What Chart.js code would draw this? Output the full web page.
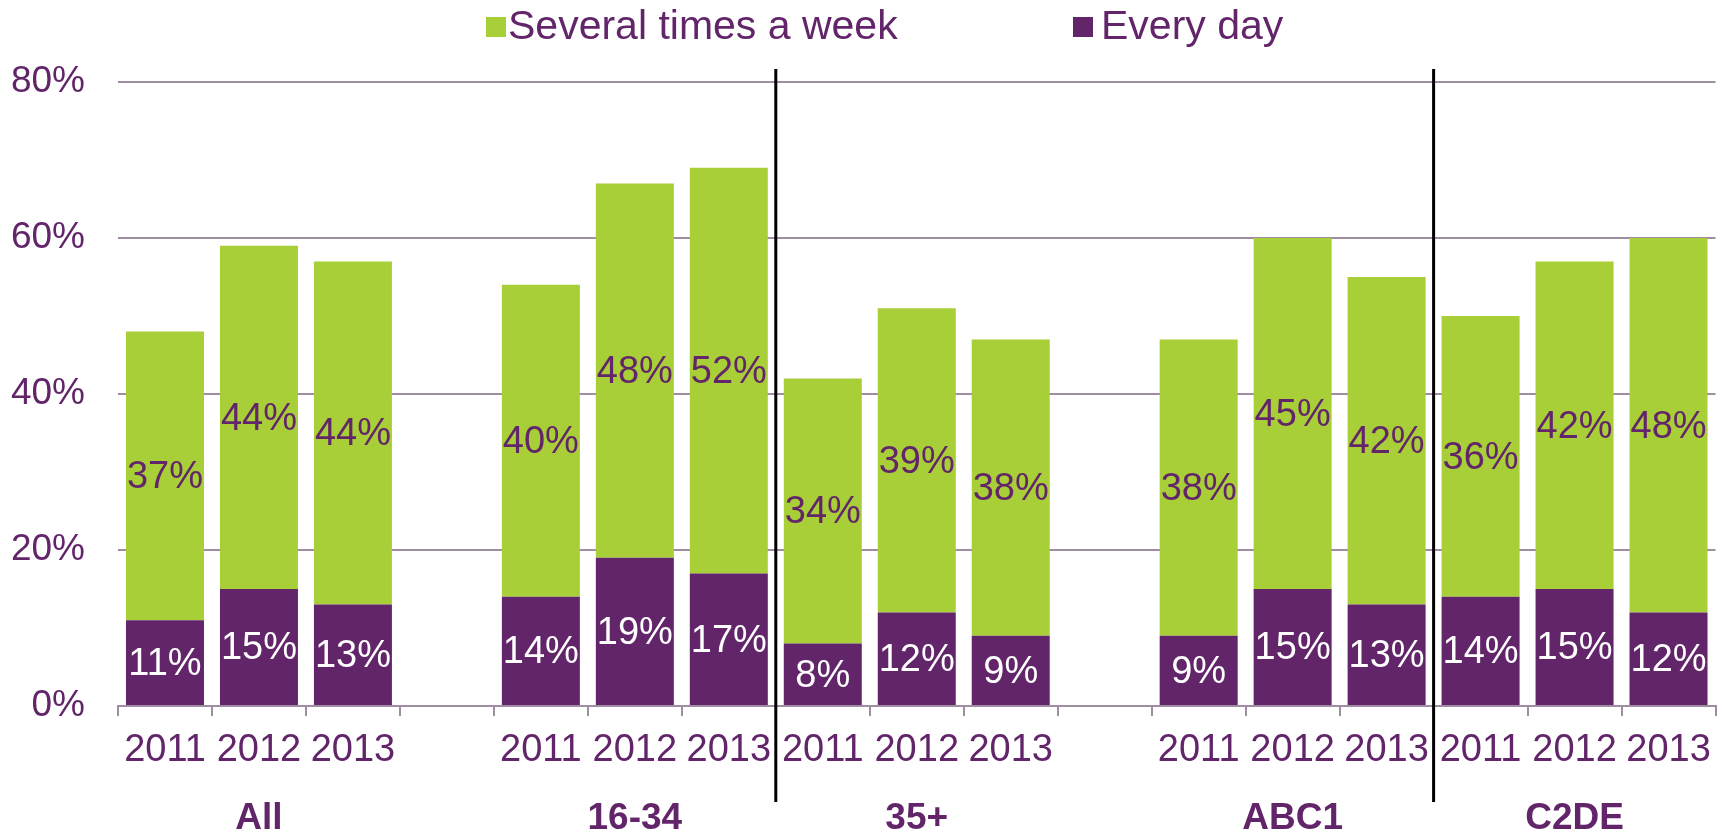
<!DOCTYPE html>
<html>
<head>
<meta charset="utf-8">
<script src="https://cdn.jsdelivr.net/npm/chart.js@4.4.1/dist/chart.umd.min.js"></script>
<style>
  html, body { margin: 0; padding: 0; background: #fff; }
  #wrap { width: 1723px; height: 833px; }
</style>
</head>
<body>
<div id="wrap"><canvas id="chart" width="1723" height="833"></canvas></div>
<script>
// categories (17 slots, blanks are the gaps between groups)
const yearLabels = ["2011", "2012", "2013", "", "2011", "2012", "2013", "2011", "2012", "2013", "", "2011", "2012", "2013", "2011", "2012", "2013"];
const groupLabels = ["", "All", "", "", "", "16-34", "", "", "35+", "", "", "", "ABC1", "", "", "C2DE", ""];

// series values (%)
const everyDay = [11, 15, 13, null, 14, 19, 17, 8, 12, 9, null, 9, 15, 13, 14, 15, 12];
const severalTimes = [37, 44, 44, null, 40, 48, 52, 34, 39, 38, null, 38, 45, 42, 36, 42, 48];

// y axis ticks
const yTicks = [0, 20, 40, 60, 80];

// separators sit between these slot pairs
const dividers = [[6, 7], [13, 14]];

const purple = "#62256A";
const green = "#A8CE38";
const gridCol = "#A08CA3";
const fontFam = "'Liberation Sans', Arial, sans-serif";

// Legend drawn by hand (order and spacing as in the original)
const legendPlugin = {
  id: "topLegend",
  afterDraw(chart) {
    const ctx = chart.ctx;
    ctx.save();
    ctx.font = "41px " + fontFam;
    ctx.textBaseline = "middle";
    ctx.fillStyle = green;
    ctx.fillRect(486, 17, 20, 20);
    ctx.fillStyle = purple;
    ctx.fillText("Several times a week", 508, 28);
    ctx.fillStyle = purple;
    ctx.fillRect(1073, 17, 20, 20);
    ctx.fillText("Every day", 1101, 28);
    ctx.restore();
  }
};

// Value labels in the middle of each segment
const labelPlugin = {
  id: "segLabels",
  afterDatasetsDraw(chart) {
    const ctx = chart.ctx;
    ctx.save();
    ctx.font = "38px " + fontFam;
    ctx.textAlign = "center";
    ctx.textBaseline = "middle";
    chart.data.datasets.forEach((ds, i) => {
      const meta = chart.getDatasetMeta(i);
      meta.data.forEach((bar, j) => {
        const v = ds.data[j];
        if (v == null) return;
        ctx.fillStyle = ds.labelColor;
        ctx.fillText(v + "%", bar.x, (bar.y + bar.base) / 2 + 2);
      });
    });
    ctx.restore();
  }
};

// Black vertical separators between groups
const dividerPlugin = {
  id: "dividers",
  afterDraw(chart) {
    const ctx = chart.ctx;
    const x = chart.scales.x;
    ctx.save();
    ctx.strokeStyle = "#000";
    ctx.lineWidth = 3;
    dividers.forEach(([a, b]) => {
      const px = (x.getPixelForValue(a) + x.getPixelForValue(b)) / 2;
      ctx.beginPath();
      ctx.moveTo(px, 69);
      ctx.lineTo(px, 802);
      ctx.stroke();
    });
    ctx.restore();
  }
};

const ctx = document.getElementById("chart").getContext("2d");
new Chart(ctx, {
  type: "bar",
  data: {
    labels: yearLabels,
    datasets: [
      {
        label: "Every day",
        data: everyDay,
        backgroundColor: purple,
        labelColor: "#FFFFFF",
        categoryPercentage: 1,
        barPercentage: 0.83
      },
      {
        label: "Several times a week",
        data: severalTimes,
        backgroundColor: green,
        labelColor: purple,
        categoryPercentage: 1,
        barPercentage: 0.83
      }
    ]
  },
  options: {
    responsive: false,
    animation: false,
    devicePixelRatio: 1,
    layout: { padding: { top: 82, right: 7, bottom: 0, left: 0 } },
    plugins: {
      legend: { display: false },
      tooltip: { enabled: false }
    },
    scales: {
      x: {
        stacked: true,
        weight: 0,
        grid: {
          offset: true,
          drawOnChartArea: false,
          drawTicks: true,
          tickLength: 10,
          color: gridCol,
          lineWidth: 2
        },
        border: { display: true, color: gridCol, width: 2 },
        ticks: {
          autoSkip: false,
          maxRotation: 0,
          padding: 12,
          color: purple,
          font: { family: fontFam, size: 38 }
        },
        afterFit(scale) { scale.height = 80; }
      },
      x2: {
        type: "category",
        position: "bottom",
        labels: groupLabels,
        offset: true,
        weight: 1,
        grid: { display: false, drawTicks: false },
        border: { display: false },
        ticks: {
          autoSkip: false,
          maxRotation: 0,
          padding: 11,
          color: purple,
          font: { family: fontFam, size: 37, weight: "bold" }
        },
        afterFit(scale) { scale.height = 47; }
      },
      y: {
        stacked: true,
        min: 0,
        max: 80,
        grid: {
          color: (c) => (c.tick && c.tick.value === 0 ? "rgba(0,0,0,0)" : gridCol),
          lineWidth: 2,
          drawTicks: false
        },
        border: { display: false },
        afterBuildTicks(scale) {
          scale.ticks = yTicks.map(v => ({ value: v }));
        },
        ticks: {
          padding: 33,
          color: purple,
          font: { family: fontFam, size: 37 },
          callback: (v) => v + "%"
        },
        afterFit(scale) { scale.width = 118; }
      }
    }
  },
  plugins: [legendPlugin, labelPlugin, dividerPlugin]
});
</script>
</body>
</html>
